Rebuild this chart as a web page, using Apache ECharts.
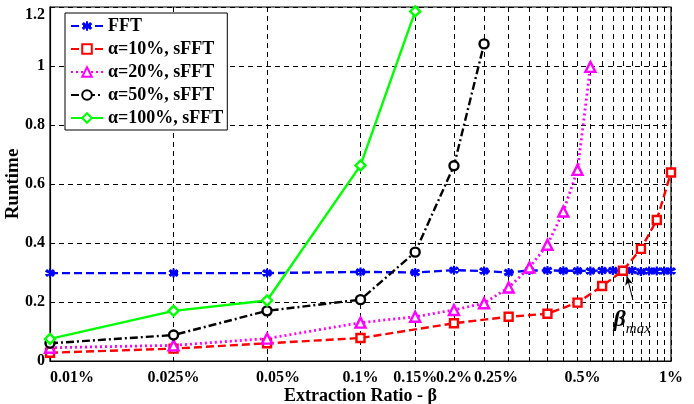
<!DOCTYPE html>
<html>
<head>
<meta charset="utf-8">
<script src="https://cdn.jsdelivr.net/npm/echarts@6/dist/echarts.min.js"></script>
<style>
html, body { margin: 0; padding: 0; background: #fff; }
#chart { width: 694px; height: 404px; }
</style>
</head>
<body>
<div id="chart"></div>
<script>
// 横轴取值（%）
var xFFT = [0.01, 0.025, 0.05, 0.1, 0.15, 0.2, 0.25, 0.3, 0.35, 0.4, 0.45, 0.5, 0.55, 0.6, 0.65, 0.7, 0.75, 0.8, 0.85, 0.9, 0.95, 1.0];
var x10 = [0.01, 0.025, 0.05, 0.1, 0.2, 0.3, 0.4, 0.5, 0.6, 0.7, 0.8, 0.9, 1.0];
var x20 = [0.01, 0.025, 0.05, 0.1, 0.15, 0.2, 0.25, 0.3, 0.35, 0.4, 0.45, 0.5, 0.55];
var x50 = [0.01, 0.025, 0.05, 0.1, 0.15, 0.2, 0.25];
var x100 = [0.01, 0.025, 0.05, 0.1, 0.15];

// 运行时间
var fftRun = [0.298, 0.298, 0.298, 0.302, 0.300, 0.308, 0.305, 0.300, 0.307, 0.307, 0.306, 0.306, 0.305, 0.307, 0.307, 0.306, 0.307, 0.303, 0.305, 0.305, 0.305, 0.305];
var a10Run = [0.028, 0.042, 0.060, 0.078, 0.128, 0.150, 0.160, 0.198, 0.254, 0.306, 0.380, 0.478, 0.639];
var a20Run = [0.045, 0.053, 0.076, 0.130, 0.150, 0.173, 0.196, 0.249, 0.317, 0.394, 0.507, 0.648, 0.997];
var a50Run = [0.060, 0.088, 0.170, 0.208, 0.369, 0.662, 1.075];
var a100Run = [0.075, 0.170, 0.205, 0.663, 1.185];

// 刻度
var xLabelTicks = [0.01, 0.025, 0.05, 0.1, 0.15, 0.2, 0.25, 0.5, 1];
var xGridTicks = [0.01, 0.025, 0.05, 0.1, 0.15, 0.2, 0.25, 0.3, 0.35, 0.4, 0.45, 0.5, 0.55, 0.6, 0.65, 0.7, 0.75, 0.8, 0.85, 0.9, 0.95, 1];

var FONT = '"Liberation Serif", "Times New Roman", serif';
var STAR = 'path://M0,-10L0,10M-8.7,-5L8.7,5M-8.7,5L8.7,-5M-7,-7L7,7M-7,7L7,-7';

function pairs(xs, ys) {
	var out = [];
	for (var i = 0; i < xs.length; i++) {
		out.push([xs[i], ys[i]]);
	}
	return out;
}

function fmtPct(v) {
	var s = String(+Number(v).toFixed(3)) + '%';
	// 原图部分标签略向右偏
	var k = +Number(v).toFixed(3);
	if (k === 0.05) { return '{p22|' + s + '}'; }
	if (k === 0.25) { return '{p24|' + s + '}'; }
	if (k === 0.5) { return '{p10|' + s + '}'; }
	return s;
}

function labelFont(pad) {
	return { fontFamily: FONT, fontWeight: 'bold', fontSize: 16, color: '#000', padding: pad };
}

var myChart = echarts.init(document.getElementById('chart'));

var option = {
	animation: false,
	textStyle: { fontFamily: FONT },
	grid: {
		left: 50, right: 23, top: 7, bottom: 43,
		outerBoundsMode: 'none',
		show: true, borderColor: '#000', borderWidth: 1.2, backgroundColor: 'transparent'
	},
	legend: {
		orient: 'vertical',
		left: 65, top: 13,
		itemWidth: 32, itemHeight: 12, itemGap: 5,
		padding: [4, 4, 3, 5],
		backgroundColor: '#fff',
		borderColor: '#000', borderWidth: 1,
		textStyle: { fontFamily: FONT, fontWeight: 'bold', fontSize: 18, color: '#000' },
		data: ['FFT', 'α=10%, sFFT', 'α=20%, sFFT', 'α=50%, sFFT', 'α=100%, sFFT']
	},
	xAxis: {
		type: 'log',
		logBase: 10,
		min: 0.01, max: 1,
		name: 'Extraction Ratio - β',
		nameLocation: 'middle',
		nameMoveOverlap: false,
		nameGap: 26,
		nameTextStyle: { fontFamily: FONT, fontWeight: 'bold', fontSize: 18, color: '#000' },
		axisLine: { lineStyle: { color: '#000', width: 1.2 } },
		axisTick: { inside: true, length: 4, customValues: xGridTicks, lineStyle: { color: '#000' } },
		axisLabel: {
			customValues: xLabelTicks,
			fontFamily: FONT, fontWeight: 'bold', fontSize: 16, color: '#000',
			margin: 9,
			alignMinLabel: 'left',
			formatter: fmtPct,
			rich: {
				p22: labelFont([0, 0, 0, 22]),
				p24: labelFont([0, 0, 0, 24]),
				p10: labelFont([0, 0, 0, 10])
			}
		},
		splitLine: { show: true, lineStyle: { color: '#000', type: [5, 4], width: 1 } }
	},
	yAxis: {
		type: 'value',
		min: 0, max: 1.2, interval: 0.2,
		name: 'Runtime',
		nameLocation: 'middle',
		nameMoveOverlap: false,
		nameGap: 27,
		nameTextStyle: { fontFamily: FONT, fontWeight: 'bold', fontSize: 19, color: '#000' },
		axisLine: { show: true, lineStyle: { color: '#000', width: 1.2 } },
		axisTick: { show: true, inside: true, length: 4, lineStyle: { color: '#000' } },
		axisLabel: {
			fontFamily: FONT, fontWeight: 'bold', fontSize: 16, color: '#000', margin: 5,
			formatter: function (v) {
				var s = String(+v.toFixed(1));
				// 顶部标签下移
				return v >= 1.19 ? '{top|' + s + '}' : s;
			},
			rich: {
				top: labelFont([16, 0, 0, 0])
			}
		},
		splitLine: { show: true, lineStyle: { color: '#000', type: [5, 4], width: 1 } }
	},
	series: [
		{
			name: 'FFT', type: 'line', data: pairs(xFFT, fftRun),
			symbol: STAR, symbolSize: 9,
			lineStyle: { color: '#0000ff', width: 2.4, type: [8, 4] },
			itemStyle: { color: '#0000ff', borderColor: '#0000ff', borderWidth: 2.2 }
		},
		{
			name: 'α=10%, sFFT', type: 'line', data: pairs(x10, a10Run),
			symbol: 'rect', symbolSize: 8,
			lineStyle: { color: '#ff0000', width: 2.4, type: [8, 4] },
			itemStyle: { color: '#fff', borderColor: '#ff0000', borderWidth: 2.4 },
			markLine: {
				silent: true,
				symbol: ['none', 'arrow'], symbolSize: [6, 9],
				lineStyle: { color: '#000', width: 1, type: 'solid' },
				label: { show: false },
				data: [[{ coord: [0.754, 0.207] }, { coord: [0.721, 0.288] }]]
			},
			markPoint: {
				silent: true,
				symbol: 'circle', symbolSize: 0,
				label: {
					show: true, position: 'inside',
					formatter: '{b|β}{m|max}',
					rich: {
						b: { fontFamily: FONT, fontStyle: 'italic', fontWeight: 'bold', fontSize: 24, color: '#000' },
						m: { fontFamily: FONT, fontStyle: 'italic', fontSize: 15, color: '#000', padding: [18, 0, 0, 0] }
					}
				},
				data: [{ coord: [0.75, 0.14] }]
			}
		},
		{
			name: 'α=20%, sFFT', type: 'line', data: pairs(x20, a20Run),
			symbol: 'triangle', symbolSize: 10,
			lineStyle: { color: '#ff00ff', width: 2.8, type: [2, 3] },
			itemStyle: { color: '#fff', borderColor: '#ff00ff', borderWidth: 2.4 }
		},
		{
			name: 'α=50%, sFFT', type: 'line', data: pairs(x50, a50Run),
			symbol: 'circle', symbolSize: 9,
			lineStyle: { color: '#000', width: 2.4, type: [8, 3, 2, 3] },
			itemStyle: { color: '#fff', borderColor: '#000', borderWidth: 2.4 }
		},
		{
			name: 'α=100%, sFFT', type: 'line', data: pairs(x100, a100Run),
			symbol: 'diamond', symbolSize: 10,
			lineStyle: { color: '#00ff00', width: 2.4, type: 'solid' },
			itemStyle: { color: '#fff', borderColor: '#00ff00', borderWidth: 2.4 }
		}
	]
};

myChart.setOption(option);
</script>
</body>
</html>
